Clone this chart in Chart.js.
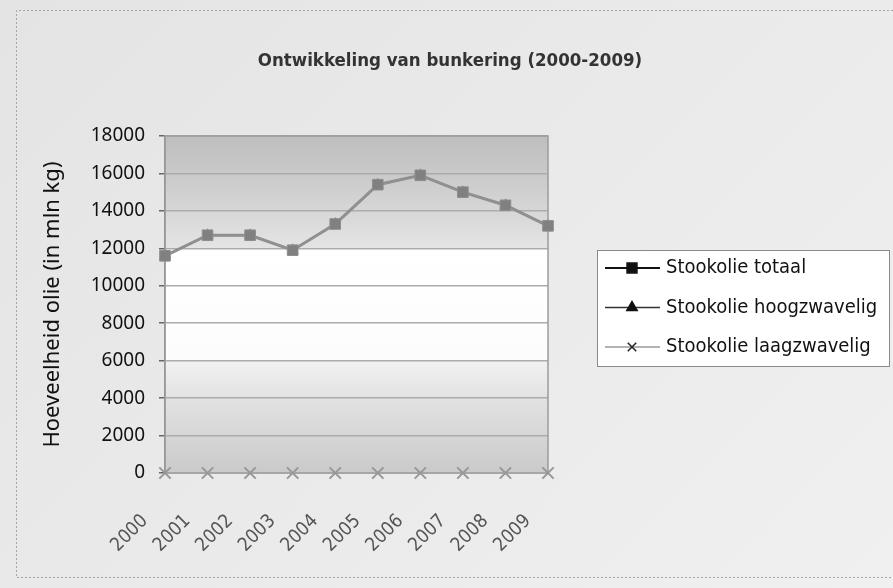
<!DOCTYPE html>
<html>
<head>
<meta charset="utf-8">
<title>Ontwikkeling van bunkering</title>
<script src="https://cdn.jsdelivr.net/npm/chart.js@4.4.1/dist/chart.umd.min.js"></script>
<style>
  html, body { margin: 0; padding: 0; }
  body {
    width: 893px; height: 588px; overflow: hidden;
    background: linear-gradient(135deg, #e4e4e4 0%, #eaeaea 50%, #f0f0f0 100%);
  }
  canvas { display: block; }
</style>
</head>
<body>
<canvas id="bunkerChart" width="893" height="588"></canvas>
<script>
// chart data
const years = ['2000', '2001', '2002', '2003', '2004', '2005', '2006', '2007', '2008', '2009'];
const totaal = [11600, 12700, 12700, 11900, 13300, 15400, 15900, 15000, 14300, 13200];
// hidden underneath the squares: same values as the total
const hoogzwavelig = [11600, 12700, 12700, 11900, 13300, 15400, 15900, 15000, 14300, 13200];
const laagzwavelig = [0, 0, 0, 0, 0, 0, 0, 0, 0, 0];
const seriesNames = ['Stookolie totaal', 'Stookolie hoogzwavelig', 'Stookolie laagzwavelig'];
const chartTitle = 'Ontwikkeling van bunkering (2000-2009)';
const yAxisTitle = 'Hoeveelheid olie (in mln kg)';
const yMax = 18000;
const yStep = 2000;

const sansFont = "'Noto Sans', sans-serif";
const tahomaLike = "'DejaVu Sans Condensed', 'DejaVu Sans', sans-serif";

// how each series looks in the legend box (darker than in the plot, like the scan)
const legendLook = [
  { line: '#111', lineWidth: 2, pointStyle: 'rect', radius: 7, fill: '#111', stroke: '#111' },
  { line: '#333', lineWidth: 1.5, pointStyle: 'triangle', radius: 6, fill: '#111', stroke: '#111' },
  { line: '#9a9a9a', lineWidth: 1.5, pointStyle: 'crossRot', radius: 6, fill: '#222', stroke: '#222' }
];

const framePlugin = {
  id: 'frame',
  beforeDraw(chart) {
    const { ctx, chartArea: a } = chart;
    // Excel style plot background: grey band on top, white middle, grey bottom
    const g = ctx.createLinearGradient(0, a.top, 0, a.bottom);
    g.addColorStop(0, '#bebebe');
    g.addColorStop(0.11, '#c9c9c9');
    g.addColorStop(0.332, '#e4e4e4');
    g.addColorStop(0.334, '#ffffff');
    g.addColorStop(0.664, '#fcfcfc');
    g.addColorStop(0.668, '#f1f1f1');
    g.addColorStop(0.78, '#e2e2e2');
    g.addColorStop(1, '#cacaca');
    ctx.save();
    ctx.fillStyle = g;
    ctx.fillRect(a.left, a.top, a.right - a.left, a.bottom - a.top);
    ctx.restore();
  },
  beforeDatasetsDraw(chart) {
    const { ctx, chartArea: a } = chart;
    ctx.save();
    ctx.strokeStyle = '#9c9c9c';
    ctx.lineWidth = 1.5;
    ctx.strokeRect(a.left, a.top, a.right - a.left, a.bottom - a.top);
    ctx.restore();
  },
  afterDraw(chart) {
    const ctx = chart.ctx;
    ctx.save();

    // dotted outline of the chart object
    ctx.strokeStyle = '#a5a5a5';
    ctx.lineWidth = 1;
    ctx.setLineDash([2, 2]);
    ctx.beginPath();
    ctx.moveTo(893, 10.5);
    ctx.lineTo(16.5, 10.5);
    ctx.lineTo(16.5, 577.5);
    ctx.lineTo(893, 577.5);
    ctx.stroke();
    ctx.setLineDash([]);

    // title
    ctx.fillStyle = '#333';
    ctx.font = 'bold 18.5px ' + tahomaLike;
    ctx.textAlign = 'center';
    ctx.textBaseline = 'middle';
    ctx.fillText(chartTitle, 450, 61);

    // legend box
    const box = { left: 597, top: 250, right: 889, bottom: 366 };
    ctx.fillStyle = '#ffffff';
    ctx.fillRect(box.left, box.top, box.right - box.left, box.bottom - box.top);
    ctx.strokeStyle = '#8a8a8a';
    ctx.lineWidth = 1;
    ctx.strokeRect(box.left + 0.5, box.top + 0.5, box.right - box.left, box.bottom - box.top);

    ctx.font = '20px ' + tahomaLike;
    ctx.textAlign = 'left';
    chart.data.datasets.forEach((ds, i) => {
      const look = legendLook[i];
      const y = 268 + i * 39.5;
      ctx.strokeStyle = look.line;
      ctx.lineWidth = look.lineWidth;
      ctx.beginPath();
      ctx.moveTo(605, y);
      ctx.lineTo(660, y);
      ctx.stroke();
      ctx.fillStyle = look.fill;
      ctx.strokeStyle = look.stroke;
      ctx.lineWidth = 1.5;
      Chart.helpers.drawPoint(ctx, {
        pointStyle: look.pointStyle, radius: look.radius, rotation: 0, borderWidth: 1.5
      }, 632, y);
      ctx.fillStyle = '#111';
      ctx.fillText(ds.label, 666, y);
    });
    ctx.restore();
  }
};

const ctx = document.getElementById('bunkerChart').getContext('2d');
new Chart(ctx, {
  type: 'line',
  data: {
    labels: years,
    datasets: [
      {
        label: seriesNames[0],
        data: totaal,
        borderColor: '#909090',
        borderWidth: 3,
        pointStyle: 'rect',
        pointRadius: 7.5,
        pointBackgroundColor: '#808080',
        pointBorderColor: '#8e8e8e',
        pointBorderWidth: 1,
        clip: false,
        order: 0
      },
      {
        label: seriesNames[1],
        data: hoogzwavelig,
        borderColor: '#909090',
        borderWidth: 2,
        pointStyle: 'triangle',
        pointRadius: 5,
        pointBackgroundColor: '#808080',
        pointBorderColor: '#808080',
        clip: false,
        order: 1
      },
      {
        label: seriesNames[2],
        data: laagzwavelig,
        borderColor: '#a6a6a6',
        borderWidth: 2,
        pointStyle: 'crossRot',
        pointRadius: 8,
        pointBorderColor: '#979797',
        pointBorderWidth: 2,
        clip: false,
        order: 2
      }
    ]
  },
  options: {
    responsive: false,
    animation: false,
    layout: {
      padding: { top: 136, right: 345, bottom: 0, left: 0 }
    },
    plugins: {
      legend: { display: false },
      title: { display: false },
      tooltip: { enabled: false }
    },
    scales: {
      x: {
        type: 'category',
        offset: false,
        grid: { display: false, drawTicks: false },
        border: { display: true, color: '#9a9a9a', width: 1.5 },
        ticks: {
          autoSkip: false,
          minRotation: 45,
          maxRotation: 45,
          labelOffset: -20,
          padding: 37,
          color: '#555',
          font: { family: tahomaLike, size: 19 }
        },
        afterFit(scale) { scale.height = 115; }
      },
      y: {
        min: 0,
        max: yMax,
        grid: { color: '#acacac', lineWidth: 1.5, tickLength: 6, tickColor: '#666' },
        border: { display: true, color: '#8a8a8a', width: 1.5 },
        ticks: {
          stepSize: yStep,
          padding: 14,
          color: '#111',
          font: { family: sansFont, size: 19 },
          callback: value => String(value)
        },
        title: {
          display: true,
          text: yAxisTitle,
          color: '#111',
          font: { family: sansFont, size: 22 },
          padding: { top: 40, bottom: 0 }
        },
        afterFit(scale) { scale.width = 165; }
      }
    }
  },
  plugins: [framePlugin]
});
</script>
</body>
</html>
